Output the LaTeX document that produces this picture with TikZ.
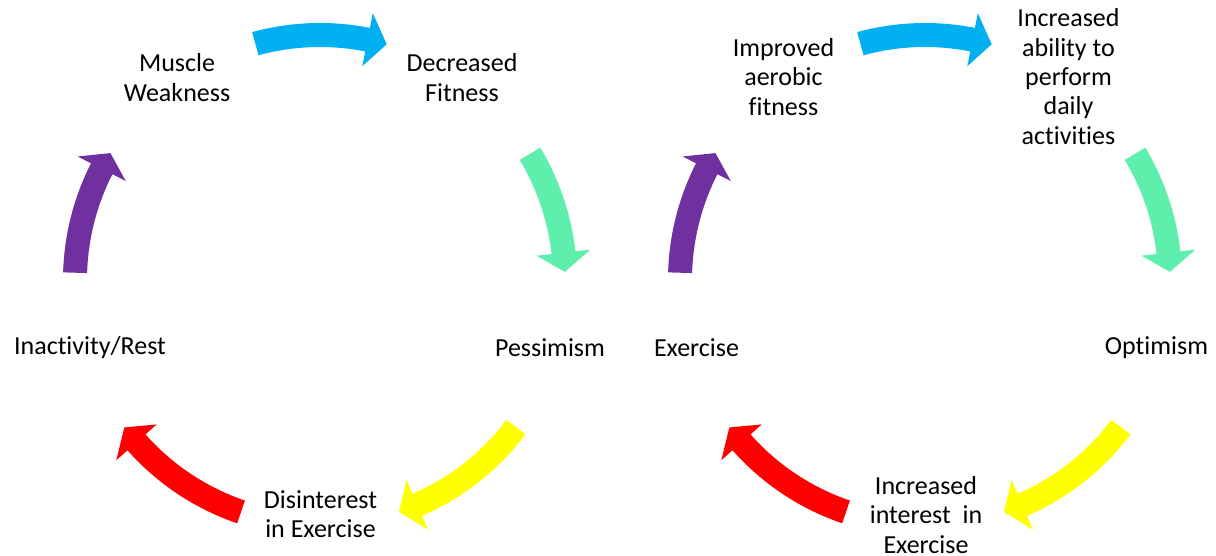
\documentclass[tikz,border=0pt]{standalone}
\usepackage{fontspec}
\setmainfont{Carlito}[Ligatures=NoCommon]
\definecolor{cblue}{HTML}{00B0F0}
\definecolor{cgreen}{HTML}{5FEFAD}
\definecolor{cyellow}{HTML}{FFFF00}
\definecolor{cred}{HTML}{FF0000}
\definecolor{cpurple}{HTML}{7030A0}
% #1 colour, #2 start angle, #3 head base angle, #4 tip angle
\newcommand{\cycarrow}[4]{%
  \fill[#1] (#2:257) arc[start angle=#2, end angle=#3, radius=257]
    -- (#3:272) -- (#4:245) -- (#3:218) -- (#3:233)
    arc[start angle=#3, end angle=#2, radius=233] -- cycle;}
\newcommand{\cycarrows}{%
  \cycarrow{cblue}{105.3}{78.8}{74.2}
  \cycarrow{cgreen}{31}{6.4}{1.9}
  \cycarrow{cyellow}{-36.9}{-66.6}{-71.2}
  \cycarrow{cred}{251.2}{221.5}{217}
  \cycarrow{cpurple}{178.3}{153}{148.8}}
\begin{document}
\begin{tikzpicture}[x=1pt,y=1pt,
  lbl/.style={align=center, inner sep=0pt, font=\fontsize{26}{29.3}\selectfont}]
\useasboundingbox (0,0) rectangle (1216,556);
% left cycle
\begin{scope}[shift={(320,276)}]
  \cycarrows
\end{scope}
\node[lbl] (muscle) at (177,478.5) {Muscle\\Weakness};
\node[lbl] (decfit) at (462,478.5) {Decreased\\Fitness};
\node[lbl] (pess) at (550,208) {Pessimism};
\node[lbl] (disint) at (320.5,41.5) {Disinterest\\in Exercise};
\node[lbl] (inact) at (90,208) {Inactivity/Rest};
% right cycle
\begin{scope}[shift={(925,276)}]
  \cycarrows
\end{scope}
\node[lbl] (aerobic) at (783.5,479) {Improved\\aerobic\\fitness};
\node[lbl] (ability) at (1068.5,479.5) {Increased\\ability to\\perform\\daily\\activities};
\node[lbl] (optim) at (1156.5,208) {Optimism};
\node[lbl] (incint) at (926,41) {Increased\\interest~ in\\Exercise};
\node[lbl] (exer) at (696.5,208) {Exercise};
\end{tikzpicture}
\end{document}
